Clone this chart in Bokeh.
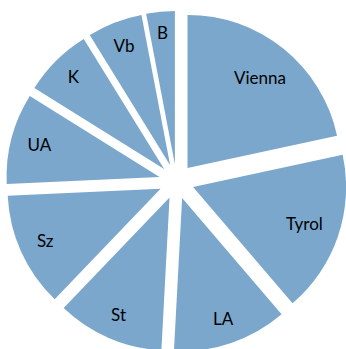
import numpy as np
from bokeh.plotting import figure
from bokeh.models import ColumnDataSource, Range1d
from bokeh.core.properties import value
from bokeh.embed import file_html
from bokeh.resources import INLINE

# Data (share of total, clockwise from 12 o'clock)
regions = ["Vienna", "Tyrol", "LA", "St", "Sz", "UA", "K", "Vb", "B"]
shares = [21.6, 17.1, 12.1, 11.3, 12.1, 9.6, 7.3, 5.8, 3.0]

W, H = 346, 349
CX, CY = 176.0, H - 181.0
RADIUS = 153.0
EXPLODE = 17.5
FILL = "#7BA7CC"
FONT_PX = 17

frac = np.array(shares, dtype=float) / sum(shares)
ang = frac * 2 * np.pi
ends = np.pi / 2 - np.cumsum(ang)
starts = ends + ang
mid = (starts + ends) / 2
ox = CX + EXPLODE * np.cos(mid)
oy = CY + EXPLODE * np.sin(mid)

# rough glyph widths (px at the label size) used to keep each label inside its slice
NARROW = {"i": 4, "l": 4, "r": 6, "t": 5.5, "z": 7.5}
WIDE_UP = {"L": 8, "K": 10, "B": 9, "S": 9, "T": 10}


def text_width(s):
    w = 0.0
    for ch in s:
        if ch in NARROW:
            w += NARROW[ch]
        elif ch in WIDE_UP:
            w += WIDE_UP[ch]
        elif ch.isupper():
            w += 11.5
        else:
            w += 8.5
    return w


# label placement: "inside end" of each slice
lx, ly = [], []
r_in = RADIUS - 11
for name, m, x0, y0 in zip(regions, mid, ox, oy):
    hw = text_width(name) / 2 + 4
    hh = 10.0
    ux, uy = np.cos(m), np.sin(m)
    c = (np.sign(ux) * hw, np.sign(uy) * hh)
    uc = ux * c[0] + uy * c[1]
    t = -uc + np.sqrt(uc * uc - (c[0] ** 2 + c[1] ** 2) + r_in ** 2)
    lx.append(x0 + t * ux)
    ly.append(y0 + t * uy)

src = ColumnDataSource(dict(region=regions, x=ox, y=oy, start=ends, end=starts,
                            lx=lx, ly=ly))

p = figure(width=W, height=H, output_backend="svg", toolbar_location=None,
           x_range=Range1d(0, W), y_range=Range1d(0, H),
           x_axis_type=None, y_axis_type=None, min_border=0)
p.grid.visible = False
p.outline_line_color = None
p.background_fill_color = "white"
p.border_fill_color = "white"

p.wedge(x="x", y="y", radius=RADIUS, start_angle="start", end_angle="end",
        fill_color=FILL, line_color=None, source=src)
p.text(x="lx", y="ly", text="region", source=src, text_align="center",
       text_baseline="middle", y_offset=-1, text_font=value("Lato"),
       text_font_size=f"{FONT_PX}px", text_color="black")

open("out.html", "w").write(file_html(p, INLINE))
